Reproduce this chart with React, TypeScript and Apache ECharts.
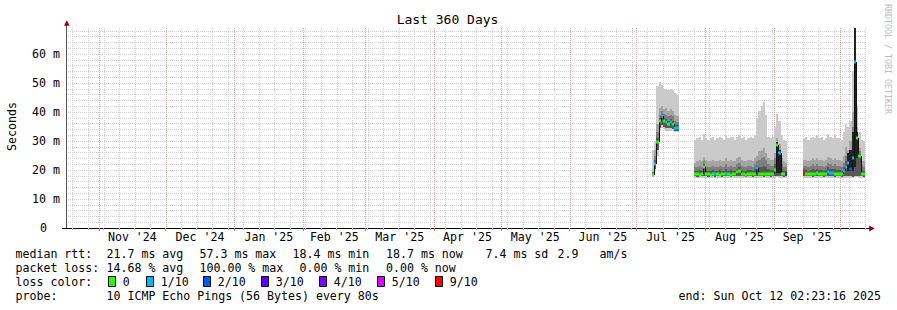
import React, { useEffect, useRef } from 'react';
import * as echarts from 'echarts';

// ---------- data ----------
const END_TIME = '2025-10-12T02:23:16Z';
const SPAN_DAYS = 360;
const titleText = 'Last 360 Days';
const yAxisName = 'Seconds';
const watermark = 'RRDTOOL / TOBI OETIKER';

const monthStarts = [
  '2024-11-01', '2024-12-01', '2025-01-01', '2025-02-01', '2025-03-01', '2025-04-01',
  '2025-05-01', '2025-06-01', '2025-07-01', '2025-08-01', '2025-09-01', '2025-10-01',
];
const monthLabels = ["Nov '24", "Dec '24", "Jan '25", "Feb '25", "Mar '25", "Apr '25", "May '25", "Jun '25", "Jul '25", "Aug '25", "Sep '25"];
const firstWeekLine = '2024-10-20';
const yMax = 69;

// day offsets from start, one value per day, starting at firstDay (null = no data)
const firstDay = 264;
const N = null;
const median = [
  18.3, 22.0, 29.5, 37.0, 38.5, 37.0, 36.5, 36.0, 36.5, 36.0, 34.5, 34.5,
  N, N, N, N, N, N, N,
  18.8, 18.5, 18.4, 18.6, 21.0, 18.6, 18.5, 18.4, 18.5, 18.7, 18.5, 18.4, 18.5, 18.6, 18.8, 18.5, 18.4, 18.6, 18.5, 19.2, 19.5,
  18.6, 18.5, 18.4, 18.5, 18.6, 18.5, 18.6, 20.8, 18.7, 18.6, 18.5, 18.8, 18.6, 18.5, 18.6, 20.0, 28.6, 26.0, 18.6, 18.5, 18.5,
  N, N, N, N, N, N, N,
  19.0, 18.7, 18.6, 18.8, 18.6, 18.7, 18.9, 18.6, 18.7, 18.6, 18.8, 19.2, 19.0, 18.9,
  18.5, 18.8, 18.7, 18.6, 19.6, 21.0, 22.4, 20.5, 24.0, 57.3, 31.0, 25.0, 18.7, 18.7,
];
const loss = [
  0, 1, 0, 0, 1, 0, 1, 0, 1, 0, 1, 1,
  N, N, N, N, N, N, N,
  0, 0, 0, 0, 0, 0, 0, 0, 0, 1, 0, 0, 0, 0, 1, 0, 0, 0, 0, 0, 0,
  0, 0, 0, 0, 0, 0, 0, 1, 0, 0, 0, 0, 0, 0, 0, 0, 0, 1, 0, 0, 3,
  N, N, N, N, N, N, N,
  9, 0, 0, 0, 0, 0, 0, 0, 0, 0, 0, 1, 1, 1,
  0, 0, 0, 0, 1, 1, 1, 2, 1, 1, 0, 0, 0, 0,
];
const pingMin = [
  17.6, 19.5, 25.0, 33.5, 34.5, 34.0, 33.5, 33.5, 33.5, 33.5, 33.0, 33.0,
  N, N, N, N, N, N, N,
  17.3, 17.2, 17.3, 17.3, 17.4, 17.3, 17.2, 17.3, 17.3, 17.2, 17.3, 17.3, 17.2, 17.3, 17.4, 17.3, 17.2, 17.3, 17.3, 17.4, 17.4,
  17.3, 17.3, 17.2, 17.3, 17.3, 17.2, 17.3, 17.4, 17.3, 17.3, 17.2, 17.3, 17.3, 17.2, 17.3, 17.4, 17.5, 17.4, 17.3, 17.2, 17.3,
  N, N, N, N, N, N, N,
  17.4, 17.3, 17.3, 17.3, 17.2, 17.3, 17.4, 17.3, 17.3, 17.2, 17.3, 17.4, 17.3, 17.3,
  17.2, 17.3, 17.3, 17.2, 17.3, 17.4, 17.4, 17.3, 17.2, 17.5, 17.6, 17.4, 17.3, 17.2,
];
const ping2 = [
  17.9, 20.5, 27.0, 34.5, 35.5, 35.0, 34.5, 34.5, 34.5, 34.0, 33.5, 33.5,
  N, N, N, N, N, N, N,
  17.8, 17.7, 17.8, 17.8, 17.9, 17.8, 17.7, 17.8, 17.8, 17.7, 17.8, 17.8, 17.7, 17.8, 17.9, 17.8, 17.7, 17.8, 17.8, 17.9, 17.9,
  17.8, 17.8, 17.7, 17.8, 17.8, 17.7, 17.8, 17.9, 17.8, 17.8, 17.7, 17.8, 17.8, 17.7, 17.8, 17.9, 18.0, 17.9, 17.8, 17.7, 17.8,
  N, N, N, N, N, N, N,
  17.9, 17.8, 17.8, 17.8, 17.7, 17.8, 17.9, 17.8, 17.8, 17.7, 17.8, 17.9, 17.8, 17.8,
  17.7, 17.8, 17.8, 17.7, 17.8, 17.9, 17.9, 17.8, 17.7, 18.0, 18.1, 17.9, 17.8, 17.7,
];
const ping7 = [
  18.8, 23.5, 31.0, 38.0, 39.5, 38.0, 37.5, 37.0, 37.5, 37.0, 35.5, 35.5,
  N, N, N, N, N, N, N,
  19.8, 19.8, 20.0, 19.8, 22.0, 20.0, 19.8, 19.8, 20.0, 19.8, 19.8, 20.0, 19.8, 19.8, 20.5, 19.8, 20.0, 19.8, 19.8, 20.5, 21.0,
  20.0, 19.8, 19.8, 20.0, 20.0, 19.8, 20.2, 21.5, 21.0, 21.0, 21.5, 21.0, 20.2, 20.0, 20.0, 22.0, 27.0, 25.0, 20.2, 19.8, 19.8,
  N, N, N, N, N, N, N,
  20.2, 20.0, 19.8, 20.0, 20.2, 20.0, 20.5, 20.0, 20.0, 19.8, 20.0, 21.0, 20.5, 20.2,
  20.5, 20.0, 20.0, 19.8, 21.0, 23.0, 24.0, 24.0, 30.0, 45.0, 32.0, 25.5, 20.0, 19.8,
];
const ping8 = [
  19.2, 25.0, 33.0, 39.0, 40.5, 39.5, 39.0, 38.5, 39.0, 38.5, 37.0, 36.5,
  N, N, N, N, N, N, N,
  21.0, 21.2, 21.5, 21.0, 23.0, 21.5, 21.2, 21.0, 21.5, 21.2, 21.0, 21.5, 21.2, 21.0, 22.0, 21.2, 21.5, 21.2, 21.0, 22.0, 22.5,
  21.5, 21.2, 21.0, 21.5, 21.5, 21.2, 22.0, 23.0, 23.5, 24.0, 24.5, 23.5, 22.0, 21.5, 21.5, 24.0, 29.0, 27.0, 22.0, 21.2, 21.0,
  N, N, N, N, N, N, N,
  21.5, 21.5, 21.2, 21.5, 22.0, 21.5, 22.0, 21.5, 21.5, 21.2, 21.5, 22.5, 22.0, 21.5,
  22.0, 21.5, 21.5, 21.2, 22.5, 25.0, 25.0, 27.0, 35.0, 50.0, 33.0, 26.5, 21.5, 21.2,
];
const ping9 = [
  19.8, 27.0, 36.0, 41.5, 42.0, 41.0, 41.5, 40.5, 41.0, 40.5, 39.0, 38.5,
  N, N, N, N, N, N, N,
  22.5, 23.0, 23.5, 23.0, 24.5, 23.5, 23.0, 23.0, 23.5, 23.0, 23.0, 23.5, 23.0, 23.0, 24.0, 23.0, 23.5, 23.0, 23.0, 24.0, 24.5,
  23.5, 23.0, 23.0, 23.5, 23.5, 23.0, 24.0, 25.0, 26.5, 27.0, 27.5, 26.0, 24.0, 23.5, 23.5, 26.0, 31.0, 29.0, 24.0, 23.0, 22.5,
  N, N, N, N, N, N, N,
  23.5, 23.5, 23.0, 23.5, 24.0, 23.5, 24.0, 23.5, 23.5, 23.0, 23.5, 24.5, 24.0, 23.5,
  24.0, 23.5, 23.5, 23.0, 25.0, 28.0, 27.0, 30.0, 40.0, 60.0, 35.0, 27.5, 23.0, 23.0,
];
const pingMax = [
  27.0, 30.0, 49.0, 50.5, 49.5, 48.0, 48.0, 47.5, 48.0, 47.5, 46.5, 46.0,
  N, N, N, N, N, N, N,
  30.5, 31.0, 31.5, 30.5, 32.5, 31.0, 30.5, 31.0, 31.5, 30.5, 31.0, 31.5, 31.0, 30.5, 32.0, 31.0, 31.5, 31.5, 30.5, 31.5, 32.0,
  31.0, 31.5, 30.5, 31.0, 31.5, 31.0, 32.0, 38.0, 40.5, 42.0, 43.5, 39.0, 31.5, 31.0, 31.5, 35.0, 39.5, 37.0, 32.0, 30.5, 30.0,
  N, N, N, N, N, N, N,
  31.0, 31.5, 30.5, 31.0, 31.5, 31.0, 32.0, 31.0, 31.5, 30.5, 31.0, 32.5, 31.5, 31.0,
  32.0, 31.0, 31.0, 30.5, 33.0, 36.0, 35.0, 37.0, 54.0, 69.0, 42.0, 33.0, 30.5, 30.0,
];
// darkest smoke band on spike days
const darkDays = [320, 321, 352, 353, 354, 355, 356];
const darkLo = [19.0, 19.0, 19.5, 19.5, 19.5, 21.0, 24.0];
const darkHi = [29.5, 27.0, 26.0, 27.0, 33.0, 69.0, 33.0];

const lossLevels = [0, 1, 2, 3, 4, 5, 9];
const lossLabels = ['0', '1/10', '2/10', '3/10', '4/10', '5/10', '9/10'];
const lossColors = ['#26ff00', '#00b8ff', '#0059ff', '#5e00ff', '#7e00ff', '#dd00ff', '#ff0000'];

const rttRowLabel = 'median rtt:';
const rttStats = ['21.7 ms avg', '57.3 ms max', '18.4 ms min', '18.7 ms now', '7.4 ms sd', '2.9', 'am/s'];
const lossRowLabel = 'packet loss:';
const lossStats = ['14.68 % avg', '100.00 % max', '0.00 % min', '0.00 % now'];
const colorRowLabel = 'loss color:';
const probeRowLabel = 'probe:';
const probeText = '10 ICMP Echo Pings (56 Bytes) every 80s';
const endText = 'end: Sun Oct 12 02:23:16 2025';

// ---------- helpers ----------
const FONT = '"DejaVu Sans Mono", monospace';
const DAY = 86400000;
const endMs = Date.parse(END_TIME);
const startMs = endMs - SPAN_DAYS * DAY;
const off = (iso: string) => (Date.parse(iso + 'T00:00:00Z') - startMs) / DAY;

const monthOffsets = monthStarts.map(off);
const monthMids = monthLabels.map((_, i) => (monthOffsets[i] + monthOffsets[i + 1]) / 2);
const weekOffsets: number[] = [];
for (let v = off(firstWeekLine); v < SPAN_DAYS; v += 7) weekOffsets.push(v);

const smokeData: number[][] = [];
const medianData: number[][] = [];
median.forEach((m, i) => {
  if (m == null) return;
  const d = firstDay + i;
  smokeData.push([d, pingMin[i]!, ping2[i]!, ping7[i]!, ping8[i]!, ping9[i]!, pingMax[i]!]);
  const prev = i > 0 && median[i - 1] != null ? (median[i - 1] as number) : NaN;
  medianData.push([d, m, loss[i] as number, prev]);
});
const darkData = darkDays.map((d, i) => [d, darkLo[i], darkHi[i]]);

const text = (t: string, x: number, y: number, extra: any = {}) => ({
  type: 'text',
  silent: true,
  x, y,
  style: { text: t, x: 0, y: 0, fill: '#000', font: `11.6px ${FONT}`, align: 'left', verticalAlign: 'middle', ...extra },
});

function buildOption(): any {
  const graphics: any[] = [];
  graphics.push(text(titleText, 447.5, 19.5, { align: 'center', font: `13px ${FONT}` }));
  graphics.push({ ...text(yAxisName, 11.5, 126.5, { align: 'center' }), rotation: Math.PI / 2 });
  graphics.push({ ...text(watermark, 887.5, 59, { align: 'center', font: `8.3px ${FONT}`, fill: '#bdbdbd' }), rotation: -Math.PI / 2 });

  // legend rows
  const rttX = [106.5, 199.5, 292.5, 386, 485.5, 557.5, 599.5];
  graphics.push(text(rttRowLabel, 15.5, 254));
  rttStats.forEach((s, i) => graphics.push(text(s, rttX[i], 254)));
  const lossX = [106.5, 199.5, 299.5, 386];
  graphics.push(text(lossRowLabel, 15.5, 268));
  lossStats.forEach((s, i) => graphics.push(text(s, lossX[i], 268)));
  graphics.push(text(colorRowLabel, 15.5, 282));
  const boxX = [108, 146, 203, 261, 319, 377, 435];
  lossLabels.forEach((l, i) => {
    graphics.push({
      type: 'rect', silent: true,
      shape: { x: boxX[i] + 0.5, y: 276.5, width: 7, height: 10 },
      style: { fill: lossColors[i], stroke: '#000', lineWidth: 1 },
    });
    graphics.push(text(l, boxX[i] + 14.7, 282));
  });
  graphics.push(text(probeRowLabel, 15.5, 296));
  graphics.push(text(probeText, 106.5, 296));
  graphics.push(text(endText, 881, 296, { align: 'right' }));

  // axis extensions and arrows
  graphics.push({ type: 'line', silent: true, shape: { x1: 66.5, y1: 24, x2: 66.5, y2: 28 }, style: { stroke: '#555', lineWidth: 1 } });
  graphics.push({ type: 'line', silent: true, shape: { x1: 865, y1: 228.5, x2: 870, y2: 228.5 }, style: { stroke: '#000', lineWidth: 1 } });
  graphics.push({ type: 'polygon', silent: true, shape: { points: [[64, 25.8], [66.8, 20.2], [69.6, 25.8]] }, style: { fill: '#990000' } });
  graphics.push({ type: 'polygon', silent: true, shape: { points: [[869.2, 225.6], [874.6, 228.5], [869.2, 231.4]] }, style: { fill: '#990000' } });

  const vline = (color: string) => (params: any, api: any) => {
    const cs = params.coordSys;
    const x = Math.round(api.coord([api.value(0), 0])[0]) + 0.5;
    return {
      type: 'line', silent: true,
      shape: { x1: x, y1: cs.y, x2: x, y2: cs.y + cs.height },
      style: { stroke: color, lineWidth: 1, lineDash: [1, 1] },
    };
  };

  const lossColorOf = (l: number) => lossColors[Math.max(0, lossLevels.indexOf(l))];

  return {
    animation: false,
    backgroundColor: '#fff',
    textStyle: { fontFamily: FONT },
    grid: { left: 66, right: 32, top: 28, bottom: 82, containLabel: false },
    xAxis: [
      {
        type: 'value', min: 0, max: SPAN_DAYS, position: 'bottom',
        axisLine: { show: true, onZero: false, lineStyle: { color: '#000', width: 1 } },
        axisTick: { show: true, customValues: monthOffsets, length: 3, lineStyle: { color: '#e06666' } },
        axisLabel: {
          show: true, customValues: monthMids, margin: 3, color: '#000', fontFamily: FONT, fontSize: 11.6,
          formatter: (v: number) => {
            const i = monthMids.findIndex((m) => Math.abs(m - v) < 1e-6);
            return i >= 0 ? monthLabels[i] : '';
          },
        },
        splitLine: { show: false },
      },
      {
        type: 'value', min: 0, max: SPAN_DAYS, position: 'bottom',
        axisLine: { show: false },
        axisTick: { show: true, customValues: weekOffsets, length: 2, lineStyle: { color: '#bbbbbb' } },
        axisLabel: { show: false },
        splitLine: { show: false },
      },
    ],
    yAxis: [
      {
        type: 'value', min: 0, max: yMax, interval: 2, position: 'left',
        axisLine: { show: false }, axisTick: { show: false }, axisLabel: { show: false },
        splitLine: { show: true, showMinLine: false, showMaxLine: false, lineStyle: { color: '#d2d2d2', width: 1, type: [1, 1] } },
      },
      {
        type: 'value', min: 0, max: yMax, interval: 10, position: 'left',
        axisLine: { show: true, lineStyle: { color: '#555', width: 1 } },
        axisTick: { show: true, customValues: [0], length: 4, lineStyle: { color: '#000' } },
        axisLabel: {
          show: true, margin: 6, color: '#000', fontFamily: FONT, fontSize: 11.6,
          formatter: (v: number) => (v === 0 ? '{z|0}' : v % 10 === 0 ? `${v} m` : ''),
          rich: { z: { fontFamily: FONT, fontSize: 11.6, color: '#000', padding: [0, 13, 0, 0] } },
        },
        splitLine: { show: true, showMinLine: false, showMaxLine: false, lineStyle: { color: '#f2a0a0', width: 1, type: [1, 1] } },
      },
    ],
    graphic: graphics,
    series: [
      {
        type: 'custom', name: 'weeks', z: 1, silent: true, xAxisIndex: 0, yAxisIndex: 0,
        data: weekOffsets.map((v) => [v, 0]), renderItem: vline('#d2d2d2'),
      },
      {
        type: 'custom', name: 'months', z: 1, silent: true, xAxisIndex: 0, yAxisIndex: 0,
        data: monthOffsets.map((v) => [v, 0]), renderItem: vline('#f2a0a0'),
      },
      {
        type: 'custom', name: 'smoke', z: 2, silent: true, clip: true, xAxisIndex: 0, yAxisIndex: 0,
        data: smokeData, encode: { x: 0, y: [1, 6] },
        renderItem: (params: any, api: any) => {
          const d = api.value(0);
          const xa = Math.round(api.coord([d, 0])[0]);
          const xb = Math.round(api.coord([d + 1, 0])[0]);
          const Y = (k: number) => Math.round(api.coord([d, api.value(k)])[1]);
          const rect = (lo: number, hi: number, fill: string) => ({
            type: 'rect', shape: { x: xa, y: Y(hi), width: xb - xa, height: Y(lo) - Y(hi) }, style: { fill },
          });
          return {
            type: 'group',
            children: [rect(1, 6, '#cacaca'), rect(2, 5, '#a4a4a4'), rect(2, 4, '#7e7e7e'), rect(2, 3, '#585858')],
          };
        },
      },
      {
        type: 'custom', name: 'dark', z: 3, silent: true, clip: true, xAxisIndex: 0, yAxisIndex: 0,
        data: darkData, encode: { x: 0, y: [1, 2] },
        renderItem: (params: any, api: any) => {
          const d = api.value(0);
          const xa = Math.round(api.coord([d, 0])[0]);
          const xb = Math.round(api.coord([d + 1, 0])[0]);
          const yl = Math.round(api.coord([d, api.value(1)])[1]);
          const yh = Math.round(api.coord([d, api.value(2)])[1]);
          return { type: 'rect', shape: { x: xa, y: yh, width: xb - xa, height: yl - yh }, style: { fill: '#222222' } };
        },
      },
      {
        type: 'custom', name: 'median', z: 4, silent: true, clip: true, xAxisIndex: 0, yAxisIndex: 0,
        data: medianData, encode: { x: 0, y: 1 },
        renderItem: (params: any, api: any) => {
          const d = api.value(0);
          const xa = Math.round(api.coord([d, 0])[0]);
          const xb = Math.round(api.coord([d + 1, 0])[0]);
          const y = Math.round(api.coord([d, api.value(1)])[1]);
          const prev = api.value(3);
          const children: any[] = [];
          if (!isNaN(prev)) {
            const yp = Math.round(api.coord([d, prev])[1]);
            if (yp !== y) {
              children.push({ type: 'line', shape: { x1: xa + 0.5, y1: yp, x2: xa + 0.5, y2: y }, style: { stroke: '#111', lineWidth: 1 } });
            }
          }
          children.push({
            type: 'rect', shape: { x: xa, y: y - 1.5, width: xb - xa, height: 3 },
            style: { fill: lossColorOf(api.value(2)) },
          });
          return { type: 'group', children };
        },
      },
    ],
  };
}

export default function App() {
  const ref = useRef<HTMLDivElement>(null);
  useEffect(() => {
    document.body.style.margin = '0';
    const chart = echarts.init(ref.current!, null, { renderer: 'svg' });
    chart.setOption(buildOption());
    return () => chart.dispose();
  }, []);
  return <div ref={ref} style={{ width: 897, height: 310, background: '#fff' }} />;
}
